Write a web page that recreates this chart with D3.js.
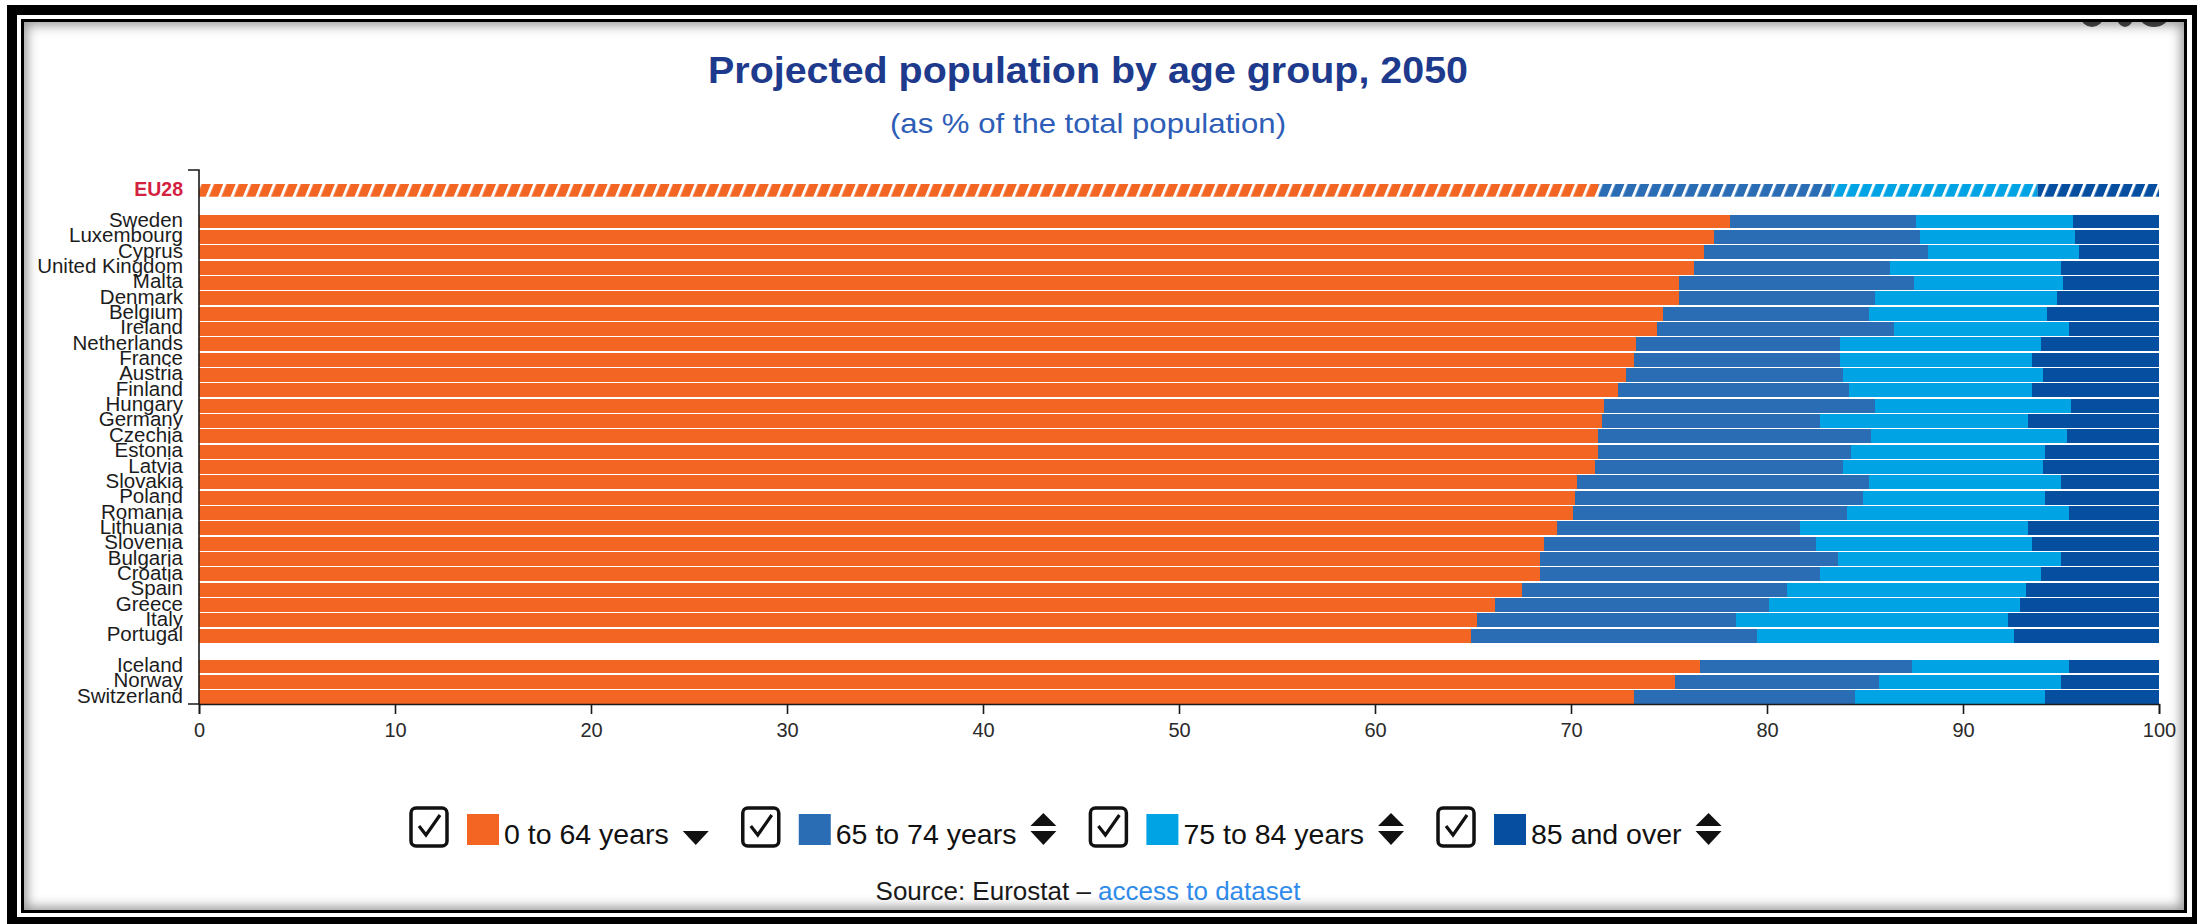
<!DOCTYPE html>
<html>
<head>
<meta charset="utf-8">
<title>Projected population by age group, 2050</title>
<script src="https://cdn.jsdelivr.net/npm/d3@7"></script>
<style>
  html, body { margin: 0; padding: 0; background: #fff; width: 2197px; height: 924px; overflow: hidden; }
  #chart { position: absolute; left: 0; top: 0; z-index: 1; }
  .frame { position: absolute; box-sizing: border-box; z-index: 2; pointer-events: none; }
  #outer { left: 7px; top: 5px; width: 2195px; height: 922px; border: 10px solid #000; }
  #inner { left: 21px; top: 19px; width: 2166px; height: 894px; border: 3.5px solid #000;
           box-shadow: inset 0 0 12px 3px rgba(0,0,0,0.42); }
</style>
</head>
<body>
<svg id="chart" width="2197" height="924"></svg>
<div class="frame" id="outer"></div>
<div class="frame" id="inner"></div>
<script>
// ---- data -------------------------------------------------------------
const aggregateName = "EU28";
const euCountries = ["Sweden", "Luxembourg", "Cyprus", "United Kingdom", "Malta", "Denmark",
  "Belgium", "Ireland", "Netherlands", "France", "Austria", "Finland", "Hungary", "Germany",
  "Czechia", "Estonia", "Latvia", "Slovakia", "Poland", "Romania", "Lithuania", "Slovenia",
  "Bulgaria", "Croatia", "Spain", "Greece", "Italy", "Portugal"];
const eftaCountries = ["Iceland", "Norway", "Switzerland"];
const seriesNames = ["0 to 64 years", "65 to 74 years", "75 to 84 years", "85 and over"];

// shares in % of total population, EU countries first, then EFTA
const age0to64 = [78.1, 77.3, 76.8, 76.3, 75.5, 75.5, 74.7, 74.4, 73.3, 73.2, 72.8, 72.4, 71.7, 71.6,
  71.4, 71.4, 71.2, 70.3, 70.2, 70.1, 69.3, 68.6, 68.4, 68.4, 67.5, 66.1, 65.2, 64.9,
  76.6, 75.3, 73.2];
const age65to74 = [9.5, 10.5, 11.4, 10.0, 12.0, 10.0, 10.5, 12.1, 10.4, 10.5, 11.1, 11.8, 13.8, 11.1,
  13.9, 12.9, 12.7, 14.9, 14.7, 14.0, 12.4, 13.9, 15.2, 14.3, 13.5, 14.0, 13.2, 14.6,
  10.8, 10.4, 11.3];
const age75to84 = [8.0, 7.9, 7.7, 8.7, 7.6, 9.3, 9.1, 8.9, 10.3, 9.8, 10.2, 9.3, 10.0, 10.6,
  10.0, 9.9, 10.2, 9.8, 9.3, 11.3, 11.6, 11.0, 11.4, 11.3, 12.2, 12.8, 13.9, 13.1,
  8.0, 9.3, 9.7];
const age85plus = [4.4, 4.3, 4.1, 5.0, 4.9, 5.2, 5.7, 4.6, 6.0, 6.5, 5.9, 6.5, 4.5, 6.7,
  4.7, 5.8, 5.9, 5.0, 5.8, 4.6, 6.7, 6.5, 5.0, 6.0, 6.8, 7.1, 7.7, 7.4,
  4.6, 5.0, 5.8];
const aggregateValues = [71.4, 11.9, 10.5, 6.2];

const xTicks = [0, 10, 20, 30, 40, 50, 60, 70, 80, 90, 100];

// ---- styling ----------------------------------------------------------
const colors = ["#F26522", "#2B6DB5", "#00A3E3", "#064FA0"];
const labelFont = "'Liberation Sans', Arial, sans-serif";

const svg = d3.select("#chart");
const defs = svg.append("defs");

// hatched fills for the aggregate bar
colors.forEach((c, i) => {
  const p = defs.append("pattern")
    .attr("id", "hatch" + i)
    .attr("patternUnits", "userSpaceOnUse")
    .attr("width", 12.4).attr("height", 40)
    .attr("patternTransform", "skewX(-22)");
  p.append("rect").attr("width", 12.4).attr("height", 40).attr("fill", c);
  p.append("rect").attr("x", 0).attr("width", 3.2).attr("height", 40).attr("fill", "#fff");
});

// clip for the toolbar icons peeking out under the top border
defs.append("clipPath").attr("id", "iconClip")
  .append("rect").attr("x", 2000).attr("y", 22).attr("width", 190).attr("height", 20);

// ---- rows -------------------------------------------------------------
const keys = seriesNames;
const rows = euCountries.concat(eftaCountries).map((name, i) => ({
  name,
  [keys[0]]: age0to64[i], [keys[1]]: age65to74[i], [keys[2]]: age75to84[i], [keys[3]]: age85plus[i]
}));
const aggRow = { name: aggregateName };
keys.forEach((k, i) => aggRow[k] = aggregateValues[i]);

const domain = [aggregateName, "__gapA"].concat(euCountries, ["__gapB"], eftaCountries);

const x = d3.scaleLinear().domain([0, 100]).range([199, 2159]);
const y = d3.scaleBand().domain(domain).range([184, 704]).paddingInner(0.1).paddingOuter(0);

const stack = d3.stack().keys(keys);
const stacked = stack(rows);
const stackedAgg = stack([aggRow]);

// country bars
const gBars = svg.append("g").attr("shape-rendering", "crispEdges");
stacked.forEach((layer, li) => {
  gBars.selectAll(null).data(layer).join("rect")
    .attr("x", d => x(d[0]))
    .attr("width", d => x(d[1]) - x(d[0]))
    .attr("y", d => y(d.data.name))
    .attr("height", y.bandwidth())
    .attr("fill", colors[li]);
});

// aggregate (hatched) bar
stackedAgg.forEach((layer, li) => {
  svg.append("g").selectAll(null).data(layer).join("rect")
    .attr("x", d => x(d[0]))
    .attr("width", d => x(d[1]) - x(d[0]))
    .attr("y", d => y(d.data.name))
    .attr("height", y.bandwidth() * 0.92)
    .attr("fill", `url(#hatch${li})`);
});

// ---- axes -------------------------------------------------------------
const axisColor = "#1a1a1a";
// category axis line with its outer ticks
svg.append("path")
  .attr("d", `M${x(0) - 11},170H${x(0)}V${y.range()[1]}H${x(0) - 11}`)
  .attr("fill", "none").attr("stroke", axisColor).attr("stroke-width", 1.6);

const xAxis = svg.append("g")
  .attr("transform", `translate(0,${y.range()[1]})`)
  .call(d3.axisBottom(x).tickValues(xTicks).tickSize(10).tickSizeOuter(10).tickPadding(9));
xAxis.select(".domain").attr("stroke", axisColor).attr("stroke-width", 1.6);
xAxis.selectAll(".tick line").attr("stroke", axisColor).attr("stroke-width", 1.6);
xAxis.selectAll(".tick text")
  .attr("font-family", labelFont).attr("font-size", 20).attr("fill", "#2a2a2a");

// category labels
svg.append("g").selectAll(null)
  .data(euCountries.concat(eftaCountries)).join("text")
  .attr("x", x(0) - 16)
  .attr("y", d => y(d) + y.bandwidth() / 2 + 5.5)
  .attr("text-anchor", "end")
  .attr("font-family", labelFont).attr("font-size", 20.5).attr("fill", "#1c1c1c")
  .text(d => d);

svg.append("text")
  .attr("x", x(0) - 16)
  .attr("y", y(aggregateName) + y.bandwidth() / 2 + 5.5)
  .attr("text-anchor", "end")
  .attr("font-family", labelFont).attr("font-size", 19.5).attr("font-weight", "bold")
  .attr("fill", "#D3223F")
  .text(aggregateName);

// ---- titles -----------------------------------------------------------
svg.append("text")
  .attr("x", 708).attr("y", 83)
  .attr("textLength", 760).attr("lengthAdjust", "spacingAndGlyphs")
  .attr("font-family", labelFont).attr("font-size", 37).attr("font-weight", "bold")
  .attr("fill", "#1E3A8C")
  .text("Projected population by age group, 2050");

svg.append("text")
  .attr("x", 890).attr("y", 133)
  .attr("textLength", 396).attr("lengthAdjust", "spacingAndGlyphs")
  .attr("font-family", labelFont).attr("font-size", 28)
  .attr("fill", "#2E5DB7")
  .text("(as % of the total population)");

// ---- legend -----------------------------------------------------------
const legend = svg.append("g");
let lx = 409;
const legTop = 806;
seriesNames.forEach((name, i) => {
  const g = legend.append("g");
  // checkbox
  g.append("rect").attr("x", lx + 2).attr("y", legTop + 2).attr("width", 36).attr("height", 38)
    .attr("rx", 5).attr("fill", "#fff").attr("stroke", "#111").attr("stroke-width", 3.5);
  g.append("path")
    .attr("d", `M${lx + 10},${legTop + 20} L${lx + 17},${legTop + 29} L${lx + 31},${legTop + 9}`)
    .attr("fill", "none").attr("stroke", "#111").attr("stroke-width", 3.2)
    .attr("stroke-linejoin", "miter");
  // swatch
  g.append("rect").attr("x", lx + 58).attr("y", legTop + 8).attr("width", 32).attr("height", 31)
    .attr("fill", colors[i]);
  // label
  const t = g.append("text").attr("x", lx + 95).attr("y", legTop + 38)
    .attr("font-family", labelFont).attr("font-size", 28.5).attr("fill", "#111")
    .text(name);
  const w = t.node().getComputedTextLength();
  // sort arrows
  const ax = lx + 95 + w + 14;
  if (i > 0) {
    g.append("path").attr("d", `M${ax},${legTop + 20} L${ax + 13},${legTop + 7} L${ax + 26},${legTop + 20} Z`)
      .attr("fill", "#111");
  }
  g.append("path").attr("d", `M${ax},${legTop + 25} L${ax + 26},${legTop + 25} L${ax + 13},${legTop + 39} Z`)
    .attr("fill", "#111");
  lx = ax + 26 + 32;
});

// ---- source -----------------------------------------------------------
const src = svg.append("text")
  .attr("x", 1088).attr("y", 900)
  .attr("text-anchor", "middle")
  .attr("font-family", labelFont).attr("font-size", 26);
src.append("tspan").attr("fill", "#1a1a1a").text("Source: Eurostat \u2013 ");
src.append("tspan").attr("fill", "#2F8CEB").text("access to dataset");

// ---- toolbar icons, mostly hidden above the plot frame ---------------
const icons = [[2092, 11], [2125, 8], [2154, 14]];
svg.append("g").attr("clip-path", "url(#iconClip)")
  .selectAll(null).data(icons).join("ellipse")
  .attr("cx", d => d[0]).attr("cy", 17).attr("rx", d => d[1]).attr("ry", 10)
  .attr("fill", "#4a4a4a");
</script>
</body>
</html>
